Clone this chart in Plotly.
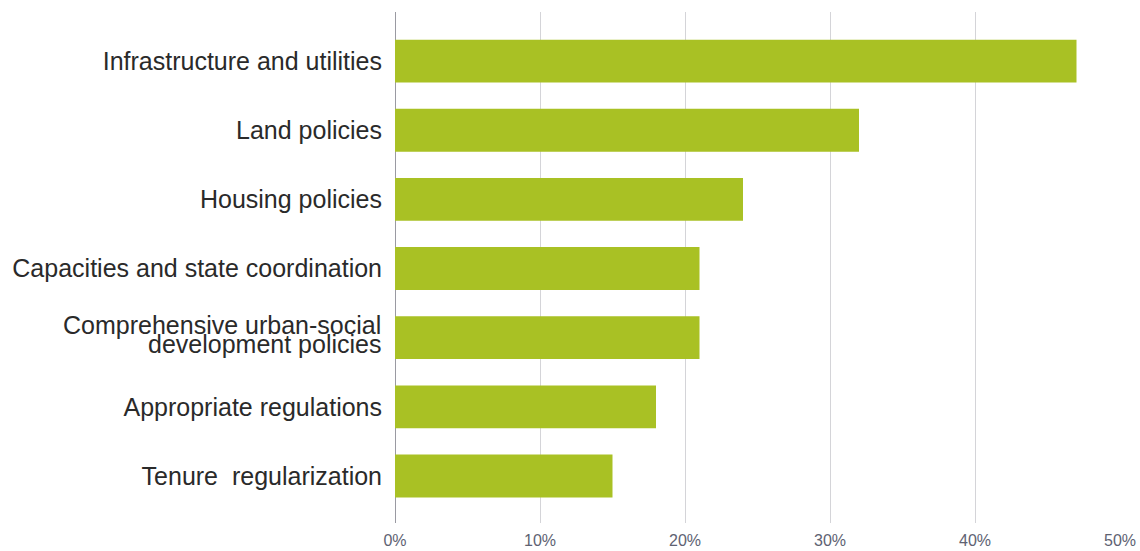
import plotly.graph_objects as go

# Share of responses per policy area (percent)
categories = [
    "Infrastructure and utilities",
    "Land policies",
    "Housing policies",
    "Capacities and state coordination",
    "Comprehensive urban-social development policies",
    "Appropriate regulations",
    "Tenure\u00a0 regularization",
]
values = [47, 32, 24, 21, 21, 18, 15]
tick_vals = [0, 10, 20, 30, 40, 50]
tick_text = ["0%", "10%", "20%", "30%", "40%", "50%"]

# The two-line category is written as separate lines so its spacing stays tight
two_line_label = ["Comprehensive urban-social", "development policies"]
y_tick_text = ["" if c == categories[4] else c for c in categories]

LABEL_FONT = dict(family="Liberation Sans, Arial, sans-serif", size=25, color="#2a2a2a")

fig = go.Figure(
    go.Bar(
        x=values,
        y=categories,
        orientation="h",
        marker=dict(color="#a9c124", line=dict(width=0)),
        hoverinfo="skip",
    )
)

fig.update_layout(
    width=1140,
    height=551,
    margin=dict(l=395, r=20, t=12, b=28),
    paper_bgcolor="white",
    plot_bgcolor="white",
    bargap=0.38,
    showlegend=False,
    font=dict(family="Liberation Sans, Arial, sans-serif"),
)

for line_text, shift in zip(two_line_label, [13, -6]):
    fig.add_annotation(
        x=0,
        xref="paper",
        y=categories[4],
        yref="y",
        text=line_text,
        showarrow=False,
        xanchor="right",
        yanchor="middle",
        xshift=-12,
        yshift=shift,
        font=LABEL_FONT,
    )

fig.update_xaxes(
    range=[0, 50],
    tickvals=tick_vals,
    ticktext=tick_text,
    showgrid=True,
    gridcolor="#d4d4d8",
    gridwidth=1,
    zeroline=True,
    zerolinecolor="#9a9aa2",
    zerolinewidth=1,
    showline=False,
    ticks="",
    tickfont=dict(size=16, color="#5e6272"),
    ticklabelstandoff=6,
    automargin=False,
)

fig.update_yaxes(
    autorange=False,
    range=[6.68, -0.71],
    type="category",
    categoryorder="array",
    categoryarray=categories,
    tickvals=categories,
    ticktext=y_tick_text,
    showgrid=False,
    zeroline=False,
    ticks="",
    tickfont=LABEL_FONT,
    ticklabelstandoff=12,
    automargin=False,
)

fig.write_html("out.html")
